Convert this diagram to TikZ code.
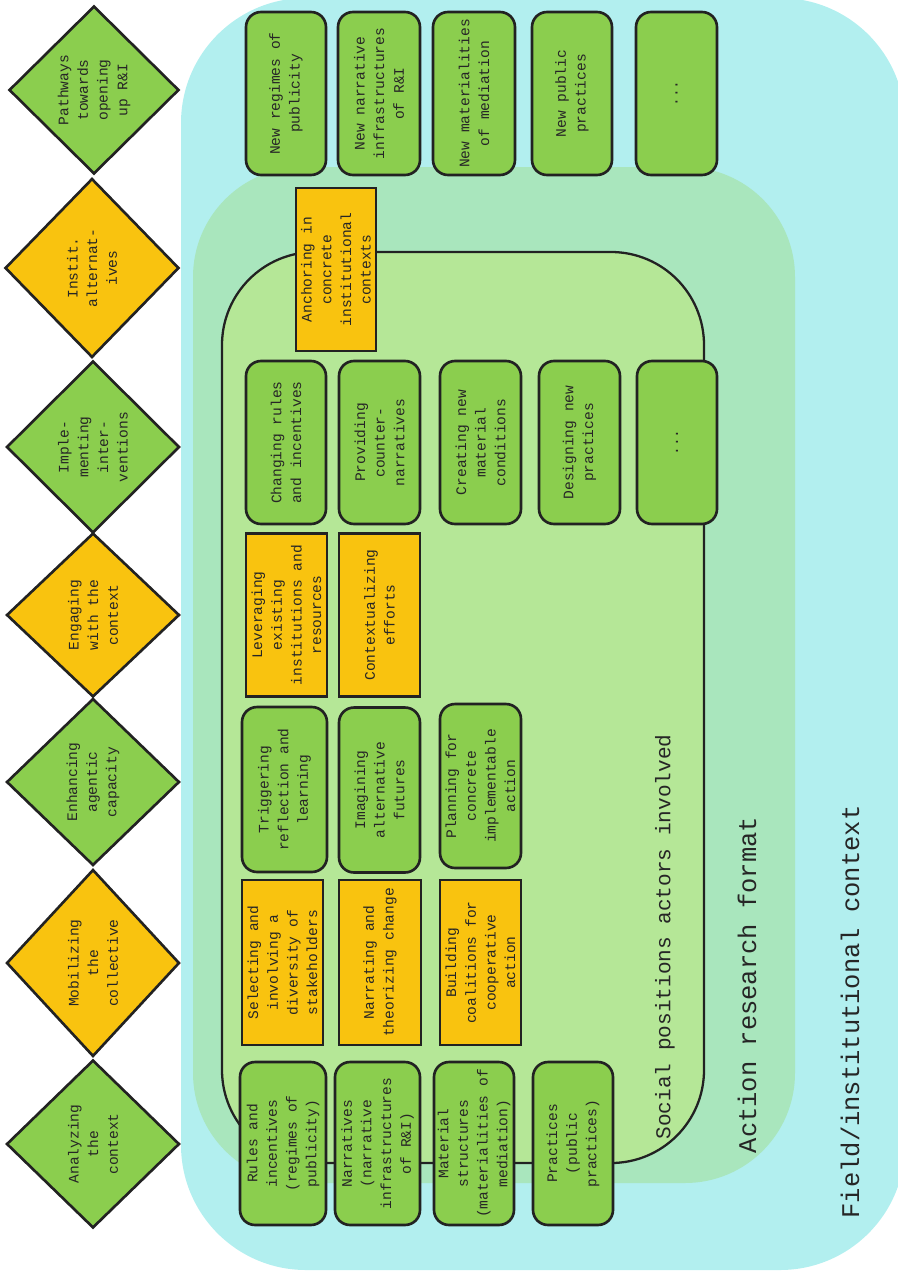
\documentclass[tikz,border=0pt]{standalone}
\usepackage{fontspec}
\setmonofont{Liberation Mono}
\usepackage{xcolor}
\usepackage{tikz}
\usetikzlibrary{
    positioning,
    shapes.geometric
}

\definecolor{fieldcyan}{HTML}{B2EFEF}
\definecolor{formatgreen}{HTML}{A9E6BD}
\definecolor{socialgreen}{HTML}{B5E797}
\definecolor{leaf}{HTML}{8BCE4E}
\definecolor{amber}{HTML}{F9C30F}
\definecolor{boxline}{HTML}{222222}

\begin{document}
\begin{tikzpicture}[x=0.02cm, y=-0.02cm,
    font=\ttfamily\fontsize{8.3}{11.2}\selectfont, text=black!85,
    gbox/.style={draw=boxline, line width=1.5pt, fill=leaf, rounded corners=0.3cm,
                 rotate=90, minimum width=3.26cm, minimum height=1.62cm,
                 align=center, inner sep=2pt},
    obox/.style={gbox, fill=amber, sharp corners},
    phase/.style={diamond, draw=boxline, line width=1.5pt, rotate=90,
                  minimum width=3.4cm, minimum height=3.46cm,
                  align=center, inner sep=1pt},
    biglabel/.style={rotate=90, font=\ttfamily\fontsize{14.5}{17}\selectfont}]

    \useasboundingbox (0,0) rectangle (898,1274);

    % === nested contexts ===
    \fill[fieldcyan, rounded corners=2.5cm] (181,-2) rectangle (905,1270);
    \fill[formatgreen, rounded corners=2.2cm] (193,167) rectangle (795,1183);
    \draw[fill=socialgreen, draw=boxline, line width=1.3pt, rounded corners=1.86cm]
        (222,252) rectangle (704,1163);

    \node[biglabel] (field) at (850,1012) {Field/institutional context};
    \node[biglabel] (format) at (747,985) {Action research format};
    \node[rotate=90, font=\ttfamily\fontsize{12}{14}\selectfont] (social) at (665,937)
      {Social positions actors involved};

    % === LEFT: phases ===
    \node[phase, fill=leaf, minimum width=3.36cm, minimum height=3.4cm] (pathways) at (94,90)
      {Pathways\\towards\\opening\\up R\&I};
    \node[phase, fill=amber, minimum width=3.58cm, minimum height=3.48cm] (instit) at (92,268)
      {Instit.\\alternat-\\ives};
    \node[phase, fill=leaf, minimum width=3.44cm] (implement) at (93,447)
      {Imple-\\menting\\inter-\\ventions};
    \node[phase, fill=amber, minimum width=3.28cm] (engage) at (93,615)
      {Engaging\\with the\\context};
    \node[phase, fill=leaf, minimum width=3.34cm] (enhance) at (93,782)
      {Enhancing\\agentic\\capacity};
    \node[phase, fill=amber, minimum width=3.74cm] (mobilize) at (93,963)
      {Mobilizing\\the\\collective};
    \node[phase, fill=leaf, minimum width=3.36cm] (analyze) at (93,1144)
      {Analyzing\\the\\context};

    % === TOP: outcomes ===
    \node[gbox, minimum height=1.6cm] (newreg) at (286,93.5) {New regimes of\\publicity};
    \node[gbox, minimum height=1.64cm] (newnarr) at (379,93.5) {New narrative\\infrastructures\\of R\&I};
    \node[gbox, minimum height=1.64cm] (newmat) at (474,93.5) {New materialities\\of mediation};
    \node[gbox, minimum height=1.6cm] (newprac) at (572,93.5) {New public\\practices};
    \node[gbox] (newmore) at (676.5,93.5) {...};

    % institutional alternatives
    \node[obox, minimum height=1.6cm] (anchor) at (336,269.5)
      {Anchoring in\\concrete\\institutional\\contexts};

    % implementing interventions
    \node[gbox, minimum height=1.6cm] (rules) at (286,442.5) {Changing rules\\and incentives};
    \node[gbox] (counter) at (379.5,442.5) {Providing\\counter-\\narratives};
    \node[gbox] (creating) at (480.5,442.5) {Creating new\\material\\conditions};
    \node[gbox] (designing) at (579.5,442.5) {Designing new\\practices};
    \node[gbox, minimum height=1.6cm] (implmore) at (677,442.5) {...};

    % engaging with the context
    \node[obox] (leverage) at (286.5,615) {Leveraging\\existing\\institutions and\\resources};
    \node[obox] (contextual) at (379.5,615) {Contextualizing\\efforts};

    % enhancing agentic capacity
    \node[gbox, minimum width=3.3cm, minimum height=1.7cm] (trigger) at (284.5,789.5)
      {Triggering\\reflection and\\learning};
    \node[gbox, minimum width=3.3cm] (imagine) at (379.5,790) {Imagining\\alternative\\futures};
    \node[gbox, minimum width=3.28cm] (planning) at (480.5,786)
      {Planning for\\concrete\\implementable\\action};

    % mobilizing the collective
    \node[obox, minimum width=3.3cm] (selecting) at (282.5,962.5)
      {Selecting and\\involving a\\diversity of\\stakeholders};
    \node[obox, minimum width=3.3cm, minimum height=1.64cm] (narrating) at (380,962.5)
      {Narrating and\\theorizing change};
    \node[obox, minimum width=3.3cm] (building) at (480.5,962.5)
      {Building\\coalitions for\\cooperative\\action};

    % === BOTTOM: analyzing the context ===
    \node[gbox, minimum height=1.72cm] (rulesinc) at (283,1143.5)
      {Rules and\\incentives\\(regimes of\\publicity)};
    \node[gbox, minimum height=1.7cm] (narratives) at (377.5,1143.5)
      {Narratives\\(narrative\\infrastructures\\of R\&I)};
    \node[gbox, minimum height=1.6cm] (material) at (474,1143.5)
      {Material\\structures\\(materialities of\\mediation)};
    \node[gbox, minimum height=1.6cm] (practices) at (573,1143.5)
      {Practices\\(public\\practices)};

\end{tikzpicture}
\end{document}
